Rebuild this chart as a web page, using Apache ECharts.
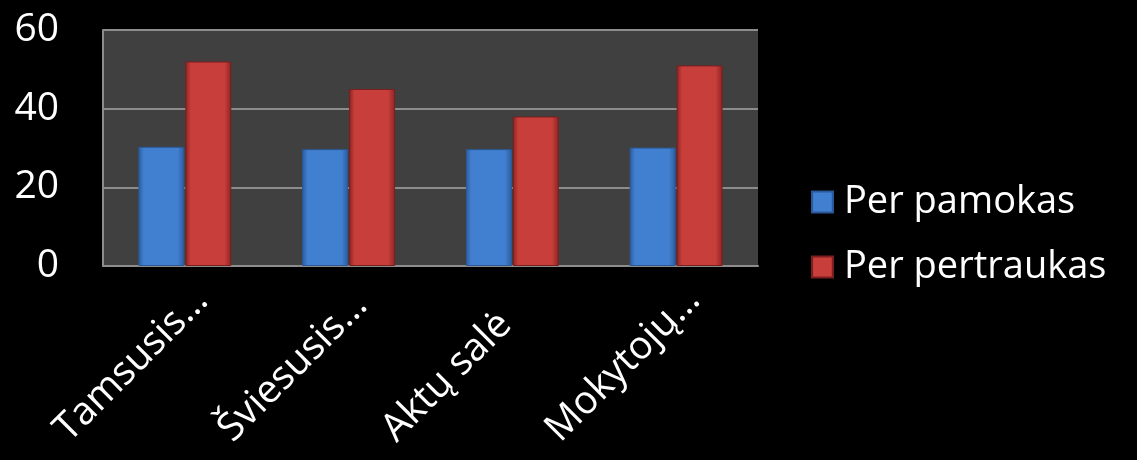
<!DOCTYPE html>
<html>
<head>
<meta charset="utf-8">
<script src="https://cdn.jsdelivr.net/npm/echarts@6/dist/echarts.min.js"></script>
<style>
html,body{margin:0;padding:0;background:#000;}
#chart{width:1137px;height:460px;}
</style>
</head>
<body>
<div id="chart"></div>
<script>
const categories = ['Tamsusis…', 'Šviesusis…', 'Aktų salė', 'Mokytojų…'];
const perPamokas = [30.3, 29.7, 29.7, 30.1];
const perPertraukas = [52, 45, 38, 51];
const seriesNames = ['Per pamokas', 'Per pertraukas'];
const yTicks = [0, 20, 40, 60];

const FONT = '"Open Sans", "DejaVu Sans", sans-serif';

function grad(edge, mid) {
  return new echarts.graphic.LinearGradient(0, 0, 1, 0, [
    {offset: 0, color: edge},
    {offset: 0.12, color: mid},
    {offset: 0.85, color: mid},
    {offset: 1, color: edge}
  ]);
}

const chart = echarts.init(document.getElementById('chart'));
chart.setOption({
  backgroundColor: '#000000',
  animation: false,
  grid: {
    left: 103, top: 30, right: 379, bottom: 194,
    show: true, backgroundColor: '#404040', borderWidth: 0
  },
  legend: {
    orient: 'vertical',
    left: 806, top: 175,
    itemWidth: 21, itemHeight: 21,
    itemGap: 21,
    icon: 'rect',
    data: seriesNames,
    textStyle: {color: '#ffffff', fontFamily: FONT, fontSize: 38, lineHeight: 44, padding: [0, 0, 0, 6]}
  },
  xAxis: {
    type: 'category',
    data: categories,
    axisLine: {show: true, lineStyle: {color: '#8c8c8c', width: 2}},
    axisTick: {show: false},
    axisLabel: {
      color: '#ffffff', fontFamily: FONT, fontSize: 39,
      rotate: 45, margin: 6, interval: 0,
      verticalAlign: 'top',
      formatter: function (v) { return '{a|' + v + '}'; },
      rich: {
        a: {color: '#ffffff', fontFamily: FONT, fontSize: 39, width: 203, align: 'left', lineHeight: 56}
      }
    }
  },
  yAxis: {
    type: 'value',
    min: yTicks[0], max: yTicks[yTicks.length - 1], interval: 20,
    axisLine: {show: true, lineStyle: {color: '#8c8c8c', width: 2}},
    axisTick: {show: false},
    splitLine: {show: true, lineStyle: {color: '#8c8c8c', width: 2}},
    axisLabel: {color: '#ffffff', fontFamily: FONT, fontSize: 39, margin: 44}
  },
  series: [
    {
      name: seriesNames[0], type: 'bar', data: perPamokas,
      barWidth: 46, barGap: '2%',
      itemStyle: {color: grad('#2c5c9e', '#4180d0'), borderColor: '#2a5898', borderWidth: 1}
    },
    {
      name: seriesNames[1], type: 'bar', data: perPertraukas,
      barWidth: 46,
      itemStyle: {color: grad('#8a2424', '#c83e3b'), borderColor: '#7a1e1e', borderWidth: 1}
    }
  ]
});
</script>
</body>
</html>
